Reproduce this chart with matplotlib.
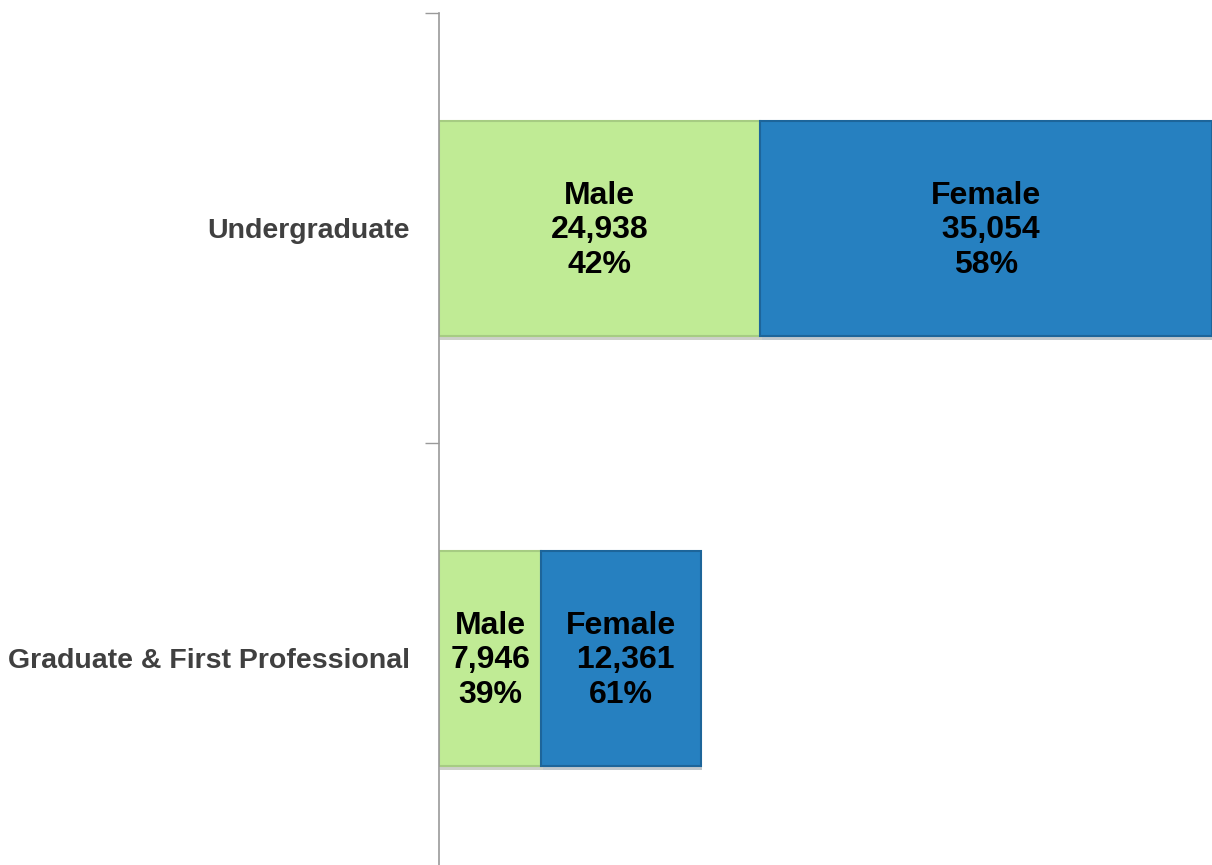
import matplotlib.pyplot as plt
import matplotlib.patheffects as pe
import numpy as np

categories = ["Undergraduate", "Graduate & First Professional"]
male = [24938, 7946]
female = [35054, 12361]
male_pct = [42, 39]
female_pct = [58, 61]

green = "#c0eb95"
blue = "#2680c0"

fig = plt.figure(figsize=(12.12, 8.65), dpi=100)
ax = fig.add_axes([439 / 1212, -8 / 865, 773 / 1212, 860 / 865])

y = np.arange(len(categories))
total = np.array(male) + np.array(female)

shadow = [pe.SimplePatchShadow(offset=(1, -3), alpha=0.25), pe.Normal()]
b1 = ax.barh(y, male, height=0.5, color=green, edgecolor="#a6cc82", linewidth=1.5)
b2 = ax.barh(y, female, left=male, height=0.5, color=blue, edgecolor="#1d659a", linewidth=1.5)
for b in list(b1) + list(b2):
    b.set_path_effects(shadow)

for i in range(len(categories)):
    ax.text(male[i] / 2, y[i] + 0.005, "Male\n%s\n%d%%" % (format(male[i], ","), male_pct[i]),
            ha="center", va="center", fontsize=23, fontweight="bold",
            family="Liberation Sans", linespacing=1.2, color="black")
    ax.text(male[i] + female[i] / 2, y[i] + 0.005, "Female\n %s\n%d%%" % (format(female[i], ","), female_pct[i]),
            ha="center", va="center", fontsize=23, fontweight="bold",
            family="Liberation Sans", linespacing=1.2, color="black")

ax.set_xlim(0, total.max())
ax.set_ylim(1.5, -0.5)

ax.set_yticks(y)
ax.set_yticklabels(categories, fontsize=20.5, fontweight="bold", color="#404040", family="Liberation Sans")
ax.tick_params(axis="y", which="major", length=0, pad=21)
ax.set_yticks([-0.5, 0.5, 1.5], minor=True)
ax.tick_params(axis="y", which="minor", length=10, width=1, color="#9a9a9a")

ax.set_xticks([])
for s in ["top", "right", "bottom"]:
    ax.spines[s].set_visible(False)
ax.spines["left"].set_color("#9a9a9a")
ax.spines["left"].set_linewidth(1.2)

fig.savefig("out.png", dpi=100)
